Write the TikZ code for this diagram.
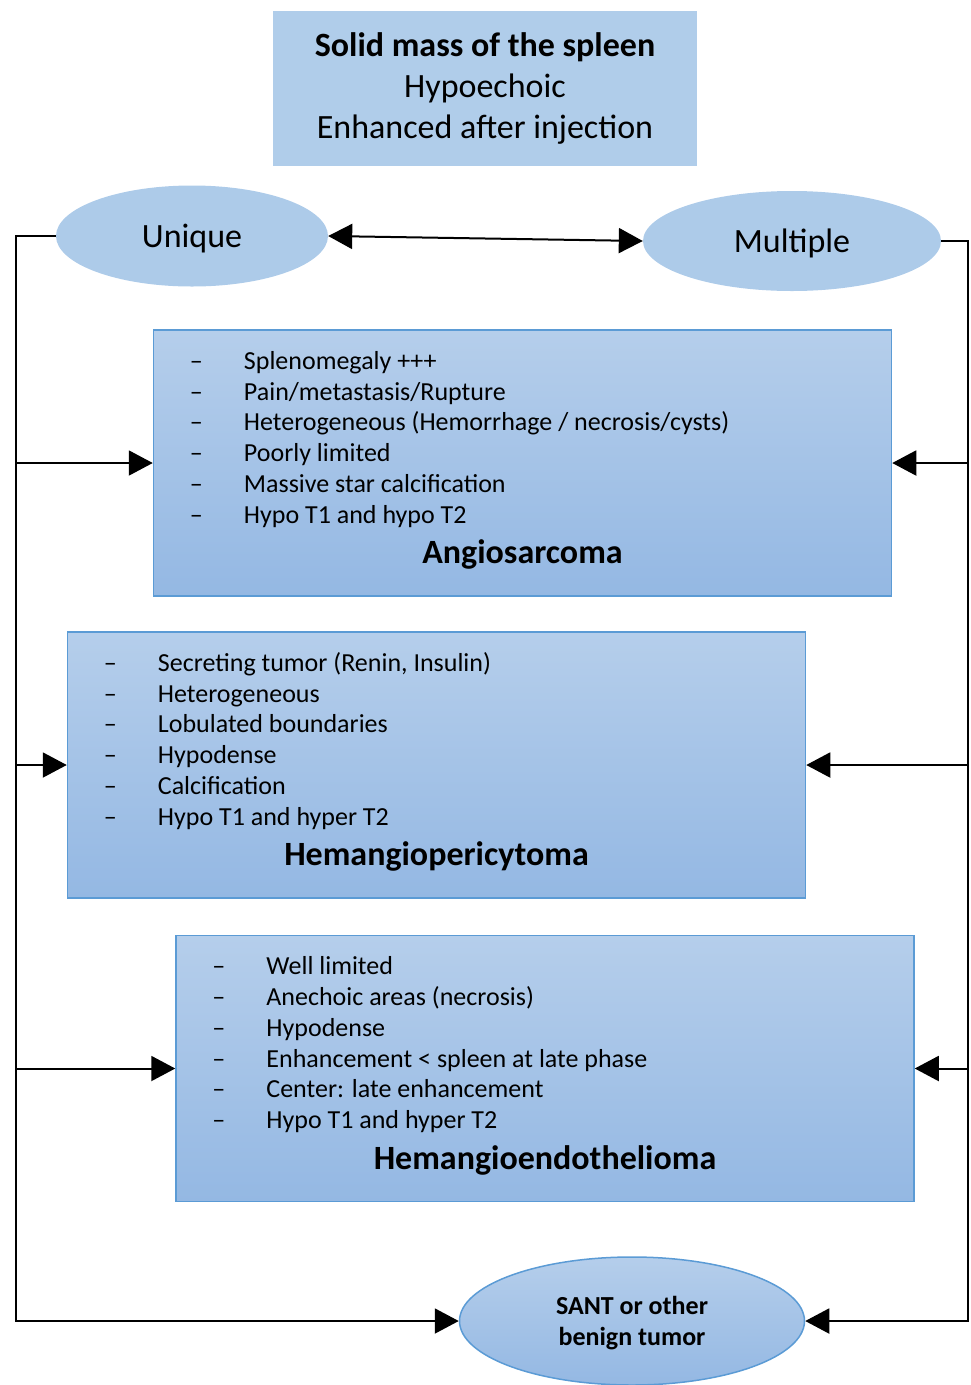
\documentclass[tikz,border=0pt]{standalone}
\usepackage{fontspec}
\setmainfont{Carlito}
\usepackage{array}
\definecolor{HeadBg}{HTML}{B0CDEA}
\definecolor{OvalBg}{HTML}{ADCBE9}
\definecolor{BoxTop}{HTML}{B5CEEB}
\definecolor{BoxBottom}{HTML}{94B8E3}
\definecolor{BoxEdge}{HTML}{5B9BD5}
\usetikzlibrary{arrows.meta}
\usetikzlibrary{calc}
\usetikzlibrary{positioning}
\usetikzlibrary{shapes.geometric}

\newenvironment{dashlist}{\begin{tabular}[t]{@{}p{54pt}@{}l@{}}}{\end{tabular}}

\begin{document}
\begin{tikzpicture}[x=1pt, y=-1pt,
    >={Triangle[length=24pt,width=25pt]},
    every node/.style={inner sep=0pt},
    link/.style={line width=2pt, ->},
    oval/.style={shape=ellipse, fill=OvalBg,
      text depth=0pt,
      font=\fontsize{34}{40}\selectfont},
    listbox/.style={shape=rectangle,
      draw=BoxEdge,
      line width=1.5pt,
      top color=BoxTop,
      bottom color=BoxBottom,
      minimum width=738pt,
      minimum height=266pt},
    bullets/.style={anchor=base west, font=\fontsize{26}{30.8}\selectfont},
    boxtitle/.style={anchor=base, font=\fontsize{34}{40}\selectfont\bfseries}]

    \path [use as bounding box] (0,0) rectangle (971,1385);

    \node[name=head,
      shape=rectangle,
      fill=HeadBg,
      minimum width=424pt,
      minimum height=155pt,
      align=center,
      font=\fontsize{34}{41}\selectfont] at (485,88)
      {\textbf{Solid mass of the spleen}\\Hypoechoic\\Enhanced after injection};

    \node[name=unique, oval,
      minimum width=272pt,
      minimum height=101pt] at (192,236) {Unique};

    \node[name=multiple, oval,
      minimum width=298pt,
      minimum height=100pt] at (792,241) {Multiple};

    % the three tumour boxes
    \node[name=angio, listbox] at (522.5,463) {};
    \node[name=angio list, bullets] at ($(angio.north west)+(37,40)$) {%
      \begin{dashlist}
        -- & Splenomegaly +++\\
        -- & Pain/metastasis/Rupture\\
        -- & Heterogeneous (Hemorrhage / necrosis/cysts)\\
        -- & Poorly limited\\
        -- & Massive star calcification\\
        -- & Hypo T1 and hypo T2
      \end{dashlist}};
    \node[name=angio title, boxtitle] at ($(angio.south)+(0,-33)$) {Angiosarcoma};

    \node[name=hpc, listbox] at (436.5,765) {};
    \node[name=hpc list, bullets] at ($(hpc.north west)+(37,40)$) {%
      \begin{dashlist}
        -- & Secreting tumor (Renin, Insulin)\\
        -- & Heterogeneous\\
        -- & Lobulated boundaries\\
        -- & Hypodense\\
        -- & Calcification\\
        -- & Hypo T1 and hyper T2
      \end{dashlist}};
    \node[name=hpc title, boxtitle] at ($(hpc.south)+(0,-33)$) {Hemangiopericytoma};

    \node[name=heh, listbox] at (545,1068.5) {};
    \node[name=heh list, bullets] at ($(heh.north west)+(37,40)$) {%
      \begin{dashlist}
        -- & Well limited\\
        -- & Anechoic areas (necrosis)\\
        -- & Hypodense\\
        -- & Enhancement < spleen at late phase\\
        -- & Center: late enhancement\\
        -- & Hypo T1 and hyper T2
      \end{dashlist}};
    \node[name=heh title, boxtitle] at ($(heh.south)+(0,-33)$) {Hemangioendothelioma};

    \node[name=sant,
      shape=ellipse,
      draw=BoxEdge,
      line width=1.5pt,
      top color=BoxTop,
      bottom color=BoxBottom,
      minimum width=345pt,
      minimum height=128pt,
      align=center,
      text depth=0pt,
      font=\fontsize{26}{31}\selectfont\bfseries] at (632,1321)
      {SANT or other\\benign tumor};

    % rails down both sides
    \coordinate (leftrail) at (16,236);
    \coordinate (rightrail) at (968,241);

    \draw[line width=2pt, <->] (unique.east) -- (multiple.west);

    \draw[link] (unique.west) -- (leftrail) |- (sant.west);
    \draw[link] (leftrail |- angio.west) -- (angio.west);
    \draw[link] (leftrail |- hpc.west) -- (hpc.west);
    \draw[link] (leftrail |- heh.west) -- (heh.west);

    \draw[link] (multiple.east) -- (rightrail) |- (sant.east);
    \draw[link] (rightrail |- angio.east) -- (angio.east);
    \draw[link] (rightrail |- hpc.east) -- (hpc.east);
    \draw[link] (rightrail |- heh.east) -- (heh.east);
  \end{tikzpicture}
\end{document}
